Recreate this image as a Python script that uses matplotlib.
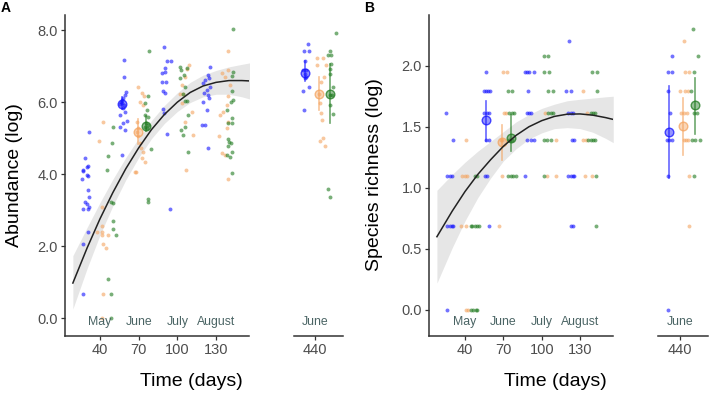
import matplotlib
matplotlib.use("Agg")
import matplotlib.pyplot as plt
from matplotlib.colors import to_rgba
from matplotlib.transforms import blended_transform_factory

plt.rcParams["font.family"] = ["Liberation Sans", "DejaVu Sans"]

W, H = 709, 393

BLUE = "#1414ff"
ORANGE = "#f4a460"
GREEN = "#1f7a1f"
TEXT = "#4d4d4d"
MONTH_COLOR = "#4a6464"
AXIS_COLOR = "#333333"

# ---- shared x axis labels ----
TICKS_MAIN = [40, 70, 100, 130]
TICKS_SUB = [440]
MONTHS = ["May", "June", "July", "August"]
MONTH_DAYS = [40, 70, 100, 130]
MONTH_SUB = "June"

# ---- panel A: abundance (log) ----
a_blue_day = [31.5, 28.4, 31.0, 29.9, 27.1, 26.5, 29.7, 31.0, 26.3, 31.0, 31.5, 28.4, 29.7,
              31.5, 27.1, 31.0, 30.4, 27.1, 27.1,
              58.6, 58.6, 60.2, 59.4, 58.1, 56.8, 56.3, 57.3, 58.9, 55.5, 58.1, 59.4, 55.5,
              60.7, 58.1, 59.4, 55.5, 56.8,
              89.6, 91.7, 94.8, 90.4, 87.8, 90.4, 91.2, 87.8, 89.1, 90.4, 89.1, 89.9, 91.7, 94.3,
              125.3, 123.5, 124.5, 121.4, 120.1, 125.3, 122.7, 120.9, 124.0, 124.5, 120.1,
              122.7, 121.4, 118.8, 124.0,
              434.6, 431.5, 435.1, 432.5, 430.7, 433.3, 432.0, 433.3, 432.0, 435.1, 430.7, 431.5]
a_blue_val = [5.18, 4.46, 4.24, 4.21, 4.12, 4.10, 3.97, 3.96, 3.87, 3.55, 3.36, 3.22, 3.17,
              3.08, 3.04, 3.04, 2.39, 2.07, 0.68,
              7.17, 6.69, 6.27, 6.20, 6.13, 6.06, 6.00, 5.97, 5.93, 5.94, 5.85, 5.74, 5.65,
              5.48, 5.42, 5.23, 5.30, 4.54,
              7.53, 7.13, 7.15, 6.94, 6.80, 6.83, 6.57, 6.55, 6.30, 6.25, 5.80, 5.70, 5.12, 3.04,
              6.97, 6.76, 6.67, 6.62, 6.53, 6.43, 6.34, 6.25, 6.20, 6.11, 6.00,
              5.79, 5.37, 5.37, 4.72,
              7.62, 7.41, 7.41, 7.13, 6.90, 6.90, 6.78, 6.71, 6.67, 6.43, 6.31, 5.79]

a_orange_day = [42.6, 39.2, 41.3, 41.8, 37.4, 41.3, 41.8, 46.5, 42.6, 44.4, 42.6, 41.3,
                69.2, 72.8, 74.4, 71.0, 73.6, 68.4, 69.7, 68.9, 69.2, 71.0, 71.8, 73.6, 72.3,
                74.9, 67.6, 67.1,
                109.0, 107.2, 105.9, 103.8, 102.0, 104.6, 103.3, 111.1, 105.9, 111.8, 106.7,
                139.5, 134.3, 139.5, 136.9, 140.8, 139.5, 138.2, 133.0, 135.6, 139.5, 138.2,
                132.2, 134.3, 136.9, 139.5,
                441.8, 446.2, 441.8, 448.3, 447.0, 444.9, 443.1, 443.6, 444.9, 445.7, 446.2,
                443.6, 447.5]
a_orange_val = [5.44, 4.91, 3.08, 2.56, 2.39, 2.39, 2.30, 2.30, 2.07, 1.94, 0.68, 0.00,
                6.41, 6.25, 6.16, 6.00, 5.93, 5.44, 5.28, 5.18, 5.05, 4.86, 4.72, 4.63, 4.46,
                4.35, 4.07, 4.07,
                7.02, 6.92, 6.71, 6.48, 6.23, 6.23, 5.97, 5.74, 5.46, 5.09, 4.12,
                7.43, 6.80, 6.90, 6.71, 6.48, 6.16, 5.93, 5.65, 5.74, 5.46, 5.28,
                5.05, 4.58, 4.54, 3.87,
                7.22, 7.24, 7.02, 7.04, 6.71, 6.57, 6.24, 5.97, 5.69, 5.51, 5.00,
                4.93, 4.79]

a_green_day = [50.3, 49.0, 46.5, 45.2, 50.3, 48.5, 50.3, 50.3, 52.1, 46.5, 48.5, 48.5,
               78.2, 77.5, 74.9, 76.2, 74.9, 77.0, 75.4, 77.0, 74.9, 76.2, 79.5, 77.0, 77.0,
               102.0, 102.8, 107.2, 105.4, 102.0, 105.9, 104.6, 107.2, 105.9, 108.0, 102.8,
               105.9, 104.6, 108.5,
               143.4, 142.1, 143.4, 142.1, 143.4, 141.6, 138.2, 142.1, 139.5, 142.1, 139.5,
               140.0, 141.3, 139.5, 142.1, 138.2, 140.8, 142.1,
               456.5, 451.4, 450.1, 452.1, 452.1, 451.4, 451.4, 454.0, 451.4, 452.9, 451.4,
               454.0, 450.1, 451.4]
a_green_val = [5.30, 4.86, 4.52, 4.11, 3.20, 3.24, 2.71, 2.48, 2.30, 1.10, 0.68, 0.00,
               7.41, 6.16, 5.97, 5.77, 5.65, 5.60, 5.42, 5.37, 5.32, 5.28, 4.69, 3.30, 3.22,
               6.99, 6.90, 6.94, 6.76, 6.67, 6.41, 6.23, 6.04, 6.04, 5.65, 5.23,
               5.32, 5.09, 4.63,
               8.03, 6.73, 6.83, 6.31, 6.06, 6.00, 5.79, 5.55, 5.43, 5.42, 4.99,
               4.90, 4.86, 4.77, 4.63, 4.53, 4.49, 4.03,
               7.92, 7.42, 7.30, 7.30, 7.05, 6.93, 6.78, 6.41, 6.20, 6.20, 5.91,
               5.67, 3.59, 3.38]

# June means with error bars (main panel, then the 440-day panel)
a_mean_day = {"blue": [57.3, 432.0], "orange": [69.2, 443.3], "green": [75.4, 452.0]}
a_mean_val = {"blue": [5.94, 6.80], "orange": [5.18, 6.22], "green": [5.35, 6.22]}
a_mean_lo = {"blue": [5.82, 6.60], "orange": [4.83, 5.78], "green": [5.20, 5.41]}
a_mean_hi = {"blue": [6.15, 7.15], "orange": [5.52, 6.69], "green": [5.62, 7.05]}

# fitted curve and its confidence band, read at these days
a_fit_day = [19, 30, 40, 50, 60, 70, 80, 90, 100, 110, 120, 130, 140, 150, 156]
a_fit = [0.98, 1.95, 2.76, 3.49, 4.15, 4.73, 5.24, 5.66, 6.00, 6.27, 6.45, 6.55, 6.60, 6.60, 6.59]
a_fit_lo = [0.26, 1.38, 2.31, 3.12, 3.84, 4.46, 4.99, 5.41, 5.74, 5.99, 6.15, 6.22, 6.22, 6.15, 6.09]
a_fit_hi = [1.74, 2.52, 3.21, 3.86, 4.46, 5.00, 5.49, 5.91, 6.26, 6.55, 6.75, 6.88, 6.98, 7.05, 7.09]

# ---- panel B: species richness (log) ----
b_blue_day = [121.0,
              56.7, 86.9, 88.7, 90.0, 93.9,
              54.8, 56.7, 58.2, 59.3, 89.2, 119.2, 123.3,
              25.4, 54.8, 57.4, 58.8, 88.7, 90.0, 91.3, 120.7, 122.6, 124.4,
              30.6, 56.7, 58.8, 88.7, 91.3, 93.9, 124.0, 125.2,
              26.2, 28.0, 30.1, 55.6, 57.4, 86.9, 120.7, 122.6, 124.4, 125.2,
              26.2, 28.0, 29.7, 30.7, 58.8, 122.6, 124.4,
              26.2,
              433.8, 430.6, 433.8, 430.6, 432.4, 429.8, 431.7, 433.8, 430.6, 431.0]
b_blue_val = [2.20,
              1.95, 1.95, 1.95, 1.95, 1.95,
              1.79, 1.79, 1.79, 1.79, 1.79, 1.79, 1.79,
              1.61, 1.61, 1.61, 1.61, 1.61, 1.61, 1.61, 1.61, 1.61, 1.61,
              1.39, 1.39, 1.39, 1.39, 1.39, 1.39, 1.39, 1.39,
              1.10, 1.10, 1.10, 1.10, 1.10, 1.10, 1.10, 1.10, 1.10, 1.10,
              0.69, 0.69, 0.69, 0.69, 0.69, 0.69, 0.69,
              0.00,
              2.08, 1.95, 1.95, 1.79, 1.61, 1.39, 1.39, 1.39, 1.10, 0.00]

b_orange_day = [69.7, 73.0,
                132.2,
                70.5, 72.3, 102.5, 135.6,
                40.5, 67.9, 69.2, 110.8, 132.2, 134.3,
                37.9, 40.0, 41.8, 68.6, 104.3, 110.8, 133.8, 139.5,
                36.6, 40.5, 66.6,
                40.5, 42.3,
                442.9, 444.2, 446.8, 440.3, 444.2, 446.3, 441.0, 442.9, 445.5,
                442.9, 444.7, 446.3, 447.3, 446.8]
b_orange_val = [1.95, 1.95,
                1.79,
                1.61, 1.61, 1.61, 1.61,
                1.39, 1.39, 1.39, 1.39, 1.39, 1.39,
                1.10, 1.10, 1.10, 1.10, 1.10, 1.10, 1.10, 1.10,
                0.69, 0.69, 0.69,
                0.00, 0.00,
                2.20, 1.95, 1.95, 1.79, 1.79, 1.79, 1.61, 1.61, 1.61,
                1.39, 1.39, 1.39, 1.10, 0.69]

b_green_day = [101.7, 105.0,
               101.7, 105.6, 139.5, 143.4,
               73.6, 77.0, 105.0, 108.8, 143.4,
               74.4, 76.5, 78.3, 105.0, 106.9, 108.8, 138.2, 140.0, 142.0,
               74.4, 76.5, 101.7, 104.3, 106.9, 136.4, 138.2, 140.0, 142.0,
               47.8, 49.6, 73.9, 75.7, 77.5, 79.6, 101.7, 142.6,
               44.4, 45.7, 47.6, 49.1, 50.9, 142.6,
               44.4, 46.3, 48.3, 49.6,
               449.9, 454.0, 450.7, 448.9, 450.7, 453.3, 449.4, 451.5, 455.9, 450.7]
b_green_val = [2.08, 2.08,
               1.95, 1.95, 1.95, 1.95,
               1.79, 1.79, 1.79, 1.79, 1.79,
               1.61, 1.61, 1.61, 1.61, 1.61, 1.61, 1.61, 1.61, 1.61,
               1.39, 1.39, 1.39, 1.39, 1.39, 1.39, 1.39, 1.39, 1.39,
               1.10, 1.10, 1.10, 1.10, 1.10, 1.10, 1.10, 1.10,
               0.69, 0.69, 0.69, 0.69, 0.69, 0.69,
               0.00, 0.00, 0.00, 0.00,
               2.30, 2.08, 1.95, 1.79, 1.61, 1.61, 1.39, 1.39, 1.39, 1.10]

b_mean_day = {"blue": [56.7, 431.1], "orange": [68.6, 442.3], "green": [75.7, 451.5]}
b_mean_val = {"blue": [1.557, 1.456], "orange": [1.375, 1.503], "green": [1.407, 1.675]}
b_mean_lo = {"blue": [1.386, 1.08], "orange": [1.23, 1.27], "green": [1.30, 1.44]}
b_mean_hi = {"blue": [1.713, 1.83], "orange": [1.516, 1.735], "green": [1.598, 1.90]}

b_fit_day = [18, 30, 40, 50, 60, 70, 80, 90, 100, 110, 120, 130, 140, 150, 156]
b_fit = [0.60, 0.81, 0.97, 1.11, 1.23, 1.34, 1.43, 1.50, 1.55, 1.585, 1.603, 1.605, 1.595, 1.575, 1.56]
b_fit_lo = [0.22, 0.51, 0.73, 0.92, 1.08, 1.22, 1.32, 1.40, 1.45, 1.485, 1.493, 1.485, 1.455, 1.405, 1.37]
b_fit_hi = [0.98, 1.11, 1.21, 1.30, 1.38, 1.46, 1.54, 1.60, 1.65, 1.685, 1.713, 1.725, 1.735, 1.745, 1.75]


def px_rect(x0, y0, x1, y1):
    return [x0 / W, 1 - y1 / H, (x1 - x0) / W, (y1 - y0) / H]


def style_axis(ax, show_left):
    for side in ("top", "right"):
        ax.spines[side].set_visible(False)
    ax.spines["left"].set_visible(show_left)
    for side in ("left", "bottom"):
        ax.spines[side].set_color(AXIS_COLOR)
        ax.spines[side].set_linewidth(1.1)
    ax.tick_params(colors=AXIS_COLOR, labelcolor=TEXT, labelsize=10.5,
                   length=3.2, width=0.9, pad=2)
    if not show_left:
        ax.tick_params(axis="y", left=False, labelleft=False)


def draw_panel(rect_main, rect_sub, xlim_main, xlim_sub, ylim, yticks, ytick_fmt,
               series, means, fit):
    fig = plt.gcf()
    ax = fig.add_axes(px_rect(*rect_main))
    ax2 = fig.add_axes(px_rect(*rect_sub))
    fit_day, fit_val, fit_lo, fit_hi = fit
    ax.fill_between(fit_day, fit_lo, fit_hi, color="#d9d9d9", alpha=0.65, lw=0, zorder=1)
    ax.plot(fit_day, fit_val, color="#222222", lw=1.1, zorder=4)
    for a in (ax, ax2):
        for days, vals, col in series:
            a.scatter(days, vals, s=8, color=col, alpha=0.6, lw=0, zorder=2)
        for name, col in (("blue", BLUE), ("orange", ORANGE), ("green", GREEN)):
            md, mv, lo, hi = (m[name] for m in means)
            for d, v, l, h in zip(md, mv, lo, hi):
                a.plot([d, d], [l, h], color=col, alpha=0.65, lw=1.2, zorder=3)
                a.plot(d, v, "o", ms=6.2, mfc=to_rgba(col, 0.45),
                       mec=to_rgba(col, 0.75), mew=1.0, zorder=3)
        a.set_ylim(*ylim)
    ax.set_xlim(*xlim_main)
    ax2.set_xlim(*xlim_sub)
    ax.set_xticks(TICKS_MAIN)
    ax2.set_xticks(TICKS_SUB)
    ax.set_yticks(yticks)
    ax.set_yticklabels([ytick_fmt.format(t) for t in yticks])
    style_axis(ax, True)
    style_axis(ax2, False)
    tr = blended_transform_factory(ax.transData, ax.transAxes)
    for m, d in zip(MONTHS, MONTH_DAYS):
        ax.text(d, 0.043, m, transform=tr, ha="center", va="center",
                fontsize=8.8, color=MONTH_COLOR)
    tr2 = blended_transform_factory(ax2.transData, ax2.transAxes)
    ax2.text(TICKS_SUB[0], 0.043, MONTH_SUB, transform=tr2, ha="center", va="center",
             fontsize=8.8, color=MONTH_COLOR)
    return ax, ax2


fig = plt.figure(figsize=(W / 100, H / 100), dpi=100)

draw_panel((65, 15, 249, 336), (294, 15, 343, 336), (12.9, 155.6), (423.7, 461.7),
           (-0.49, 8.42), [0, 2, 4, 6, 8], "{:.1f}",
           [(a_blue_day, a_blue_val, BLUE), (a_orange_day, a_orange_val, ORANGE),
            (a_green_day, a_green_val, GREEN)],
           (a_mean_day, a_mean_val, a_mean_lo, a_mean_hi),
           (a_fit_day, a_fit, a_fit_lo, a_fit_hi))

draw_panel((429, 15, 613, 336), (658, 15, 708, 336), (11.8, 155.8), (422.8, 461.9),
           (-0.213, 2.415), [0, 0.5, 1.0, 1.5, 2.0], "{:.1f}",
           [(b_blue_day, b_blue_val, BLUE), (b_orange_day, b_orange_val, ORANGE),
            (b_green_day, b_green_val, GREEN)],
           (b_mean_day, b_mean_val, b_mean_lo, b_mean_hi),
           (b_fit_day, b_fit, b_fit_lo, b_fit_hi))

fig.text(15 / W, 1 - 175 / H, "Abundance (log)", rotation=90, ha="center", va="center",
         fontsize=14, color="black")
fig.text(375 / W, 1 - 175 / H, "Species richness (log)", rotation=90, ha="center",
         va="center", fontsize=14, color="black")
fig.text(191 / W, 1 - 382 / H, "Time (days)", ha="center", va="center", fontsize=14)
fig.text(555 / W, 1 - 382 / H, "Time (days)", ha="center", va="center", fontsize=14)
fig.text(6 / W, 1 - 8 / H, "A", ha="center", va="center", fontsize=10, fontweight="bold")
fig.text(369 / W, 1 - 8 / H, "B", ha="center", va="center", fontsize=10, fontweight="bold")

fig.savefig("out.png", dpi=100, facecolor="white")
